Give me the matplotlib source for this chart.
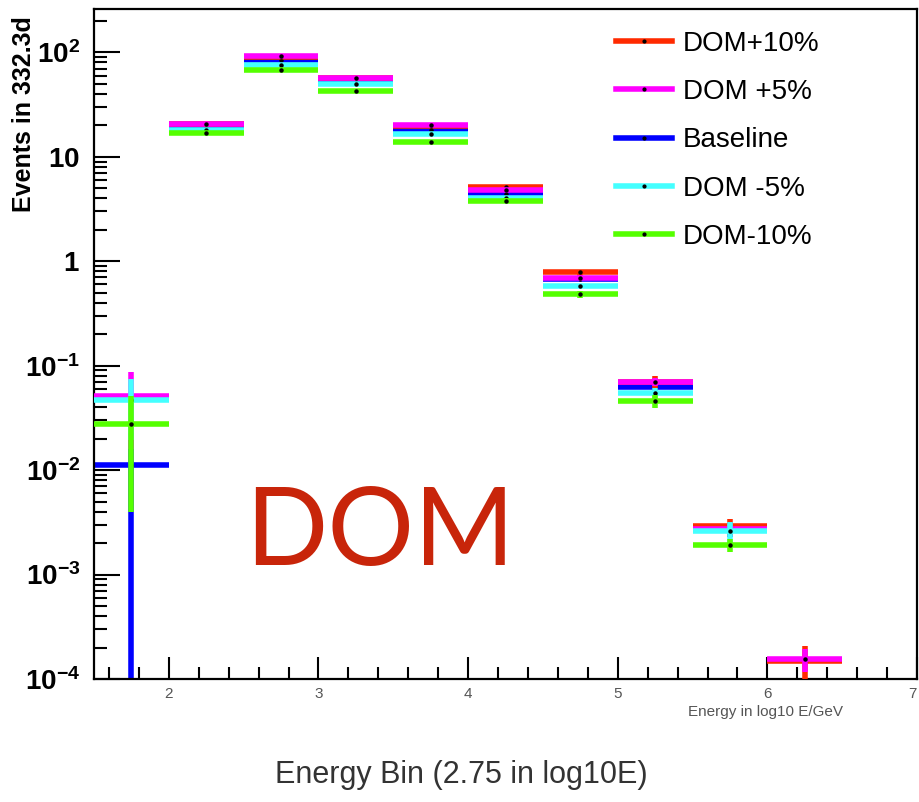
import numpy as np
import matplotlib
matplotlib.use("Agg")
import matplotlib.pyplot as plt
from matplotlib.lines import Line2D
from matplotlib.ticker import FixedLocator, NullFormatter

# energy bins in log10(E/GeV)
bin_edges = [1.5, 2.0, 2.5, 3.0, 3.5, 4.0, 4.5, 5.0, 5.5, 6.0, 6.5]

labels = ["DOM+10%", "DOM +5%", "Baseline", "DOM -5%", "DOM-10%"]
colors = ["#ff2a00", "#ff00ff", "#0000ff", "#44ffff", "#55ff00"]

nan = np.nan
dom_p10 = [nan, 20.4, 91.0, 56.5, 19.8, 5.13, 0.78, 0.0705, 0.0029, 1.5e-4]
dom_p05 = [0.0516, 20.7, 92.0, 57.0, 20.0, 4.83, 0.695, 0.0698, 0.00276, 1.55e-4]
baseline = [0.0113, 19.4, 84.8, 50.5, 17.9, 4.37, 0.68, 0.0622, 0.0027, nan]
dom_m05 = [0.0473, 18.1, 76.4, 50.0, 16.4, 4.05, 0.579, 0.0545, 0.00262, nan]
dom_m10 = [0.0275, 16.8, 68.5, 42.4, 13.8, 3.79, 0.481, 0.0459, 0.00191, nan]

err_p10 = [nan, 0.6, 1.5, 1.0, 0.6, 0.2, 0.05, 0.0095, 0.00053, 0.55e-4]
err_p05 = [0.0358, 0.6, 1.5, 1.0, 0.5, 0.15, 0.04, 0.006, 0.0003, 0.39e-4]
err_base = [0.0113, 0.5, 1.5, 1.0, 0.5, 0.15, 0.04, 0.006, 0.0004, nan]
err_m05 = [0.028, 0.5, 1.5, 1.0, 0.5, 0.12, 0.03, 0.006, 0.0006, nan]
err_m10 = [0.0235, 0.6, 1.5, 1.0, 0.6, 0.2, 0.035, 0.007, 0.00027, nan]

values = [dom_p10, dom_p05, baseline, dom_m05, dom_m10]
errors = [err_p10, err_p05, err_base, err_m05, err_m10]
# baseline goes in first, the shifted samples are overlaid on it
zorders = [3, 4, 2, 5, 6]

ytick_vals = [1e-4, 1e-3, 1e-2, 1e-1, 1, 10, 100]
ytick_labels = [r"$\mathbf{10^{-4}}$", r"$\mathbf{10^{-3}}$", r"$\mathbf{10^{-2}}$",
                r"$\mathbf{10^{-1}}$", r"$\mathbf{1}$", r"$\mathbf{10}$", r"$\mathbf{10^{2}}$"]
xtick_vals = [2, 3, 4, 5, 6, 7]

plt.rcParams["mathtext.fontset"] = "custom"
plt.rcParams["mathtext.bf"] = "Liberation Sans:bold"
plt.rcParams["mathtext.rm"] = "Liberation Sans"
plt.rcParams["font.family"] = ["Liberation Sans", "DejaVu Sans"]

fig = plt.figure(figsize=(9.19, 8.02), dpi=100)
ax = fig.add_axes([94 / 919, 1 - 679 / 802, (917 - 94) / 919, (679 - 9) / 802])

ymin, ymax = 1e-4, 260
edges = np.array(bin_edges)
lo, hi = edges[:-1], edges[1:]
centers = 0.5 * (lo + hi)

for vals, errs, col, z in zip(values, errors, colors, zorders):
    v = np.array(vals)
    e = np.array(errs)
    ok = ~np.isnan(v)
    ax.hlines(v[ok], lo[ok], hi[ok], colors=col, lw=4.0, zorder=z)
    bottom = np.clip(v[ok] - e[ok], ymin * 0.01, None)
    ax.vlines(centers[ok], bottom, v[ok] + e[ok], colors=col, lw=4.0, zorder=z)
    ax.plot(centers[ok], v[ok], "o", ms=2.2, color="black", zorder=z + 0.5)

ax.set_yscale("log")
ax.set_xlim(1.5, 7)
ax.set_ylim(ymin, ymax)

ax.yaxis.set_major_locator(FixedLocator(ytick_vals))
ax.set_yticklabels(ytick_labels)
minor = [m * 10.0 ** k for k in range(-4, 3) for m in range(2, 10)]
ax.yaxis.set_minor_locator(FixedLocator(minor))
ax.yaxis.set_minor_formatter(NullFormatter())
ax.set_xticks(xtick_vals)
ax.set_xticklabels([str(t) for t in xtick_vals])
ax.get_xticklabels()[-1].set_horizontalalignment("right")
ax.xaxis.set_minor_locator(FixedLocator(np.arange(1.6, 7.0, 0.2)))

ax.tick_params(axis="y", which="major", direction="in", length=19, width=1.5,
               labelsize=20, pad=10, left=True, right=False)
ax.tick_params(axis="y", which="minor", direction="in", length=9, width=1.5,
               left=True, right=False)
ax.tick_params(axis="x", which="major", direction="in", length=16, width=1.5,
               labelsize=11, pad=6, labelcolor="#555555", top=False)
ax.tick_params(axis="x", which="minor", direction="in", length=9, width=1.5, top=False)
for s in ax.spines.values():
    s.set_linewidth(1.6)

fig.text(24 / 919, 1 - 16 / 802, "Events in 332.3d", fontsize=18, fontweight="bold",
         rotation=90, ha="center", va="top")

handles = [Line2D([], [], color=c, lw=4.0, marker="o", ms=2, mfc="black", mec="black")
           for c in colors]
ax.legend(handles, labels, loc="upper left", bbox_to_anchor=(616 / 919, 1 - 31 / 802),
          bbox_transform=fig.transFigure, frameon=False, fontsize=20,
          handlelength=2.0, handletextpad=0.4, labelspacing=0.8, borderpad=0,
          borderaxespad=0)

fig.text(765 / 919, 1 - 712 / 802, "Energy in log10 E/GeV", fontsize=11,
         color="#555555", ha="center", va="center")
fig.text(461 / 919, 1 - 775 / 802, "Energy Bin (2.75 in log10E)", fontsize=22,
         color="#333333", ha="center", va="center")
fig.text(380 / 919, 1 - 535 / 802, "DOM", fontsize=78, color="#c8250a",
         family=["Lato", "DejaVu Sans"], fontweight="normal", ha="center", va="center")

fig.savefig("out.png", dpi=100)
